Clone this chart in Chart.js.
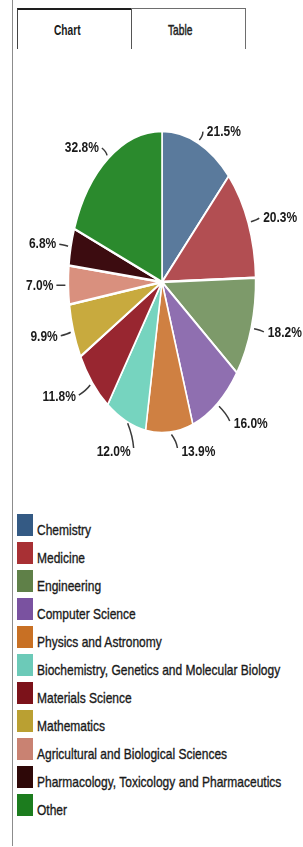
<!DOCTYPE html>
<html>
<head>
<meta charset="utf-8">
<script src="https://cdn.jsdelivr.net/npm/chart.js@4"></script>
<style>
  body { margin: 0; width: 303px; height: 847px; background: #fff; position: relative; overflow: hidden;
         font-family: "Liberation Sans", Arial, sans-serif; color: #1a1a1a; }
  .frame { position: absolute; left: 12px; top: 0; width: 1px; height: 846px; background: #8c8c8c; }
  .tab { position: absolute; top: 8px; height: 41px; box-sizing: border-box; font-size: 15px; line-height: 17px; }
  .tab span { position: absolute; top: 12px; transform: scaleX(0.68); transform-origin: left center; white-space: nowrap; }
  #tabChart { left: 17px; width: 115px; border-top: 2px solid #1e1e1e; border-left: 1px solid #444; border-right: 1px solid #555; font-weight: bold; }
  #tabChart span { left: 36px; top: 11px; }
  #tabTable { left: 131px; width: 115px; border-top: 1px solid #6e6e6e; border-right: 1px solid #6e6e6e; color: #222; }
  #tabTable span { left: 37px; -webkit-text-stroke: 0.5px #222; }
  #pieWrap { position: absolute; left: 0; top: 100px; width: 303px; height: 364px; }
  #legend { position: absolute; left: 17px; top: 514px; }
  .item { height: 28px; position: relative; }
  .box { position: absolute; left: 0; top: 0; width: 16px; height: 22px; }
  .txt { position: absolute; left: 20px; top: 7px; font-size: 15px; line-height: 17px; white-space: nowrap;
         transform: scaleX(0.8); transform-origin: left center; -webkit-text-stroke: 0.35px #1a1a1a; }
</style>
</head>
<body>
<div class="frame"></div>
<div class="tab" id="tabChart"><span>Chart</span></div>
<div class="tab" id="tabTable"><span>Table</span></div>
<div id="pieWrap"><canvas id="pie" width="303" height="364"></canvas></div>
<div id="legend"></div>
<script>
const categories = [
  'Chemistry',
  'Medicine',
  'Engineering',
  'Computer Science',
  'Physics and Astronomy',
  'Biochemistry, Genetics and Molecular Biology',
  'Materials Science',
  'Mathematics',
  'Agricultural and Biological Sciences',
  'Pharmacology, Toxicology and Pharmaceutics',
  'Other'
];
const shares = [21.5, 20.3, 18.2, 16.0, 13.9, 12.0, 11.8, 9.9, 7.0, 6.8, 32.8];

const sliceColors = ['#5a7a9c', '#b24e52', '#7d9a6a', '#8f6fb0', '#cf8042', '#76d4bf',
                     '#982630', '#c8aa3e', '#d9907e', '#3c0c10', '#2b8a2d'];
const legendColors = ['#345a84', '#a83034', '#5f8048', '#7a52a0', '#c87024', '#6ccab8',
                      '#7c121a', '#baa032', '#c98272', '#2e0808', '#1c7c1e'];

const squeezeX = 0.62;   // the pie in the picture is an upright ellipse
const pieRadius = 151;

// squash the circle Chart.js draws into the ellipse of the reference
const squeezePie = {
  id: 'squeezePie',
  beforeDatasetsDraw(chart) {
    const arc = chart.getDatasetMeta(0).data[0];
    const ctx = chart.ctx;
    ctx.save();
    ctx.translate(arc.x, 0);
    ctx.scale(squeezeX, 1);
    ctx.translate(-arc.x, 0);
  },
  afterDatasetsDraw(chart) {
    chart.ctx.restore();
  }
};

// percentage labels with short leader lines
const pctLabels = {
  id: 'pctLabels',
  afterDraw(chart) {
    const ctx = chart.ctx;
    const meta = chart.getDatasetMeta(0);
    ctx.save();
    ctx.strokeStyle = '#3a3a3a';
    ctx.lineWidth = 1.5;
    ctx.fillStyle = '#1a1a1a';
    ctx.font = 'bold 15px "Liberation Sans", Arial, sans-serif';
    ctx.textBaseline = 'middle';
    meta.data.forEach((arc, i) => {
      const mid = (arc.startAngle + arc.endAngle) / 2;
      const cos = Math.cos(mid), sin = Math.sin(mid);
      const R = arc.outerRadius;
      const ex = arc.x + squeezeX * R * cos;
      const ey = arc.y + R * sin;
      let x0, y0, x1, y1, ty;
      if (sin > 0.9) {
        // labels under the pie hang below it
        x0 = ex + 2; y0 = ey + 2;
        x1 = ex + 8; y1 = arc.y + R + 15;
        ty = y1 + 4;
      } else {
        const L = 12 + 14 * Math.pow(Math.max(0, sin), 2);
        x0 = ex + 3 * cos; y0 = ey + 3 * sin;
        x1 = ex + L * cos; y1 = ey + L * sin;
        ty = y1 + 3 * Math.max(0, sin);
      }
      ctx.beginPath();
      ctx.moveTo(x0, y0);
      ctx.quadraticCurveTo((x0 + x1) / 2 + 2, (y0 + y1) / 2, x1, y1);
      ctx.stroke();
      const right = cos >= 0;
      ctx.save();
      ctx.translate(x1 + (right ? 4 : -3), ty);
      ctx.scale(0.8, 1);
      ctx.textAlign = right ? 'left' : 'right';
      ctx.fillText(shares[i].toFixed(1) + '%', 0, 0);
      ctx.restore();
    });
    ctx.restore();
  }
};

new Chart(document.getElementById('pie'), {
  type: 'pie',
  data: {
    labels: categories,
    datasets: [{
      data: shares,
      backgroundColor: sliceColors,
      borderColor: '#ffffff',
      borderWidth: 2.5
    }]
  },
  options: {
    responsive: false,
    animation: false,
    radius: pieRadius,
    layout: { padding: { left: 21, right: 0, top: 0, bottom: 0 } },
    plugins: {
      legend: { display: false },
      tooltip: { enabled: false }
    }
  },
  plugins: [squeezePie, pctLabels]
});

// legend below the pie
const legend = document.getElementById('legend');
categories.forEach((name, i) => {
  const row = document.createElement('div');
  row.className = 'item';
  row.innerHTML = '<div class="box" style="background:' + legendColors[i] + '"></div>' +
                  '<span class="txt">' + name + '</span>';
  legend.appendChild(row);
});
</script>
</body>
</html>
